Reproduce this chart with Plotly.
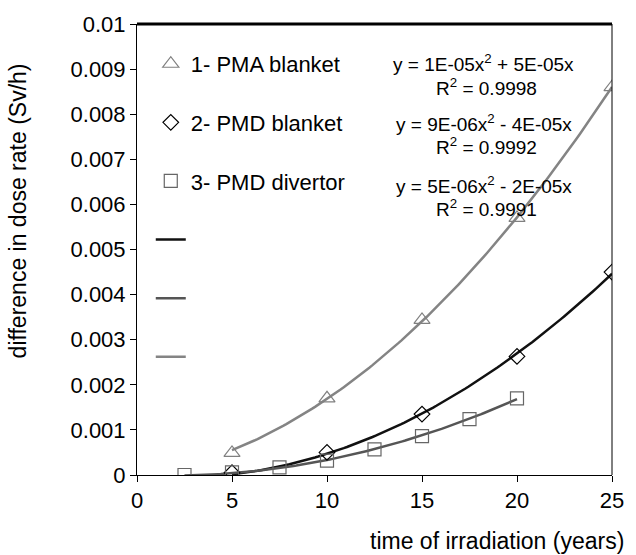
import numpy as np
import plotly.graph_objects as go

# ---- data ----
x_pma = [5, 10, 15, 20, 25]
y_pma = [0.00049, 0.0017, 0.00344, 0.0057, 0.0086]
x_pmd_bl = [5, 10, 15, 20, 25]
y_pmd_bl = [0.00005, 0.0005, 0.00135, 0.00263, 0.0045]
x_pmd_div = [2.5, 5, 7.5, 10, 12.5, 15, 17.5, 20]
y_pmd_div = [0.0, 0.00006, 0.00017, 0.00032, 0.00057, 0.00086, 0.00124, 0.0017]

series_names = ["1- PMA blanket", "2- PMD blanket", "3- PMD divertor"]
equations = ["y = 1E-05x<sup>2</sup> + 5E-05x", "y = 9E-06x<sup>2</sup> - 4E-05x", "y = 5E-06x<sup>2</sup> - 2E-05x"]
r2_texts = ["R<sup>2</sup> = 0.9998", "R<sup>2</sup> = 0.9992", "R<sup>2</sup> = 0.9991"]

x_ticks = [0, 5, 10, 15, 20, 25]
y_ticks = [0, 0.001, 0.002, 0.003, 0.004, 0.005, 0.006, 0.007, 0.008, 0.009, 0.01]
y_ticktext = ["0", "0.001", "0.002", "0.003", "0.004", "0.005", "0.006", "0.007", "0.008", "0.009", "0.01"]


def trend(xs, ys):
    xs = np.asarray(xs, float)
    ys = np.asarray(ys, float)
    A = np.vstack([xs ** 2, xs]).T
    coef, *_ = np.linalg.lstsq(A, ys, rcond=None)
    xf = np.linspace(xs.min(), xs.max(), 120)
    return xf, coef[0] * xf ** 2 + coef[1] * xf


FONT = "Liberation Sans, Arial, sans-serif"
fig = go.Figure()

# trendlines
trend_specs = [
    (x_pmd_bl, y_pmd_bl, "#111111", 1),
    (x_pmd_div, y_pmd_div, "#555555", 2),
    (x_pma, y_pma, "#848484", 3),
]
for xs, ys, col, rank in trend_specs:
    xf, yf = trend(xs, ys)
    fig.add_trace(go.Scatter(x=xf, y=yf, mode="lines", name=" ",
                             line=dict(color=col, width=2.5),
                             legendgroup="t%d" % rank, legendrank=10 + rank,
                             hoverinfo="skip"))

# markers
marker_specs = [
    (x_pma, y_pma, "triangle-up-open", "#808080", 14),
    (x_pmd_bl, y_pmd_bl, "diamond-open", "#000000", 12),
    (x_pmd_div, y_pmd_div, "square-open", "#666666", 13),
]
for i, (xs, ys, sym, col, sz) in enumerate(marker_specs):
    fig.add_trace(go.Scatter(x=xs, y=ys, mode="markers", name=series_names[i],
                             marker=dict(symbol=sym, color=col, size=sz,
                                         line=dict(width=1.2, color=col)),
                             legendgroup="m%d" % i, legendrank=i + 1))

# equation annotations
eq_y = [0.913, 0.781, 0.644]
for i in range(3):
    fig.add_annotation(x=0.73, y=eq_y[i], xref="paper", yref="paper", text=equations[i],
                       showarrow=False, font=dict(size=19, color="black", family=FONT),
                       xanchor="center", yanchor="middle")
    fig.add_annotation(x=0.735, y=eq_y[i] - 0.052, xref="paper", yref="paper", text=r2_texts[i],
                       showarrow=False, font=dict(size=19, color="black", family=FONT),
                       xanchor="center", yanchor="middle")

# axis titles
fig.add_annotation(x=1.03, y=-0.146, xref="paper", yref="paper",
                   text="time of irradiation (years)", showarrow=False,
                   xanchor="right", yanchor="middle",
                   font=dict(size=23, color="black", family=FONT))
fig.add_annotation(x=-0.25, y=0.585, xref="paper", yref="paper",
                   text="difference in dose rate (Sv/h)", showarrow=False, textangle=-90,
                   xanchor="center", yanchor="middle",
                   font=dict(size=23, color="black", family=FONT))

# borders
fig.add_shape(type="line", xref="paper", yref="paper", x0=0, x1=1, y0=1, y1=1,
              line=dict(color="black", width=3))
fig.add_shape(type="line", xref="paper", yref="paper", x0=1, x1=1, y0=0, y1=1,
              line=dict(color="black", width=1))

fig.update_layout(
    width=636, height=555,
    margin=dict(l=137, r=16, t=24, b=80),
    paper_bgcolor="white", plot_bgcolor="white",
    font=dict(family=FONT, size=22, color="black"),
    showlegend=True,
    legend=dict(x=0.029, y=0.958, xanchor="left", yanchor="top",
                bgcolor="rgba(0,0,0,0)", tracegroupgap=27,
                font=dict(size=22, family=FONT), itemwidth=30),
    xaxis=dict(range=[0, 25], tickvals=x_ticks, showgrid=False, zeroline=False,
               showline=True, linecolor="black", linewidth=1,
               ticks="outside", ticklen=6, tickcolor="black",
               tickfont=dict(size=22, family=FONT)),
    yaxis=dict(range=[0, 0.01], tickvals=y_ticks, ticktext=y_ticktext, showgrid=False,
               zeroline=False, showline=True, linecolor="black", linewidth=1,
               ticks="outside", ticklen=6, tickcolor="black",
               tickfont=dict(size=22, family=FONT)),
)

fig.write_html("out.html")
